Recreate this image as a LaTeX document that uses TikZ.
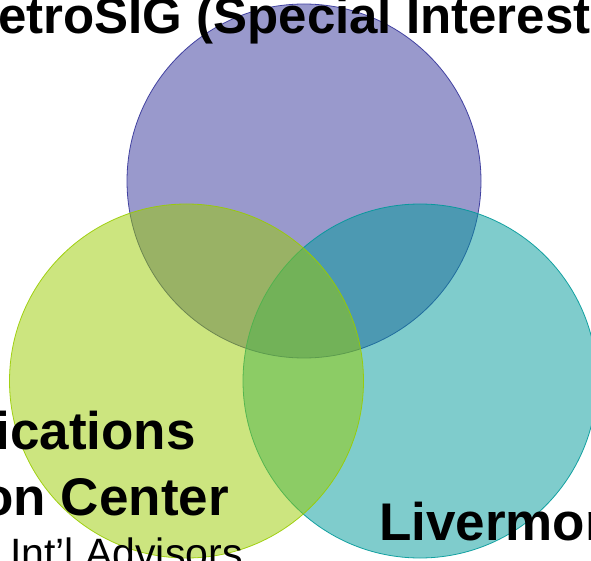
\documentclass[tikz,border=0pt]{standalone}
\usepackage{fontspec}
\setmainfont{Liberation Sans}
\definecolor{cpurple}{HTML}{333399}
\definecolor{cgreen}{HTML}{99CC00}
\definecolor{cteal}{HTML}{009999}
\tikzset{
  venn/.style={circle, minimum size=354pt, inner sep=0pt, fill opacity=0.5, draw opacity=0.9, line width=0.8pt},
  bigbold/.style={inner sep=0pt, font=\fontsize{53}{66}\selectfont\bfseries, text=black},
  titlebold/.style={inner sep=0pt, font=\fontsize{51}{61}\selectfont\bfseries, text=black},
  subtext/.style={inner sep=0pt, font=\fontsize{41}{49}\selectfont, text=black}
}
\begin{document}
\begin{tikzpicture}[x=1pt,y=-1pt]
\useasboundingbox (0,0) rectangle (591,561);
\clip (0,0) rectangle (591,561);
\node[venn, fill=cpurple, draw=cpurple] (metro) at (304,181) {};
\node[venn, fill=cteal, draw=cteal] (liver) at (420,381) {};
\node[venn, fill=cgreen, draw=cgreen] (apps) at (186.5,381) {};
\node[titlebold, anchor=base west] (title) at (-2,34) {etroSIG (Special Interest};
\node[bigbold, anchor=base east] (l1) at (196,449) {ications};
\node[bigbold, anchor=base east] (l2) at (229,515) {on Center};
\node[subtext, anchor=base west] (l3) at (10,567) {Int’l Advisors};
\node[bigbold, anchor=base west] (lv) at (379,540) {Livermor};
\end{tikzpicture}
\end{document}
